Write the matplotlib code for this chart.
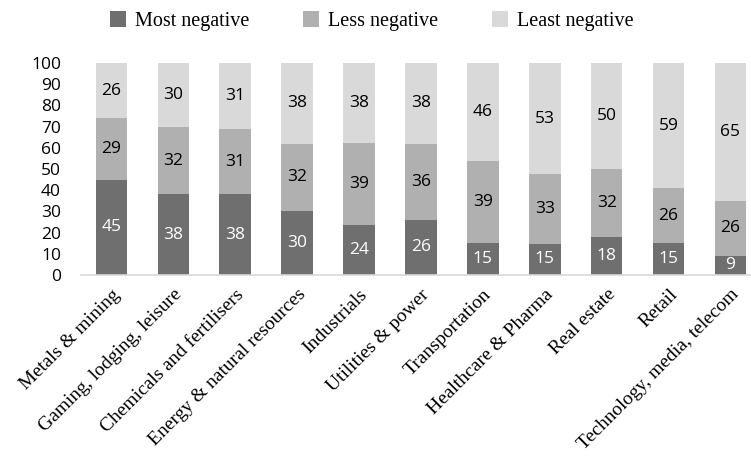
import numpy as np
from matplotlib import pyplot as plt

sectors = ["Metals & mining", "Gaming, lodging, leisure", "Chemicals and fertilisers",
           "Energy & natural resources", "Industrials", "Utilities & power",
           "Transportation", "Healthcare & Pharma", "Real estate", "Retail",
           "Technology, media, telecom"]
most_negative = [45, 38, 38, 30, 24, 26, 15, 15, 18, 15, 9]
less_negative = [29, 32, 31, 32, 39, 36, 39, 33, 32, 26, 26]
least_negative = [26, 30, 31, 38, 38, 38, 46, 53, 50, 59, 65]
series_names = ["Most negative", "Less negative", "Least negative"]
colors = ["#6f6f6f", "#b0b0b0", "#d9d9d9"]
text_colors = ["white", "black", "black"]

W, H = 751, 462
fig = plt.figure(figsize=(W / 100, H / 100), dpi=100)
# axes in pixel coords: x 80.5 -> 751, y 63 -> 275
ax = fig.add_axes([80.5 / W, (H - 275) / H, (W - 80.5) / W, (275 - 63) / H])

data = np.array([most_negative, less_negative, least_negative], dtype=float)
pct = data / data.sum(axis=0) * 100  # 100% stacked, like the source chart
x = np.arange(len(sectors))
bottom = np.zeros(len(sectors))
handles = []
for i in range(3):
    bars = ax.bar(x, pct[i], 0.51, bottom=bottom, color=colors[i], label=series_names[i])
    handles.append(bars)
    for xi, b, h, v in zip(x, bottom, pct[i], data[i]):
        ax.text(xi, b + h / 2, f"{int(v)}", ha="center", va="center",
                color=text_colors[i], fontsize=12.5, family="Open Sans")
    bottom += pct[i]

ax.set_xlim(-0.5, 10.0 + (751 - 730.5) / 61.9)
ax.set_ylim(0, 100)
ax.set_yticks(range(0, 101, 10))
ax.tick_params(axis="y", length=0, pad=14, labelsize=12.5)
for lab in ax.get_yticklabels():
    lab.set_family("Open Sans")
ax.set_xticks(x)
ax.set_xticklabels(sectors, rotation=45, ha="right", rotation_mode="anchor",
                   family="Liberation Serif", fontsize=14)
ax.tick_params(axis="x", length=0, pad=8)
for s in ["top", "right", "left"]:
    ax.spines[s].set_visible(False)
ax.spines["bottom"].set_color("#d9d9d9")
ax.spines["bottom"].set_linewidth(1.2)

fig.legend(handles=handles, loc="center left", bbox_to_anchor=(92 / W, 1 - 21 / H), ncol=3,
           frameon=False, handlelength=0.8, handleheight=0.8, handletextpad=0.45,
           columnspacing=2.65, prop={"family": "Liberation Serif", "size": 14.5})

fig.savefig("out.png", dpi=100)
